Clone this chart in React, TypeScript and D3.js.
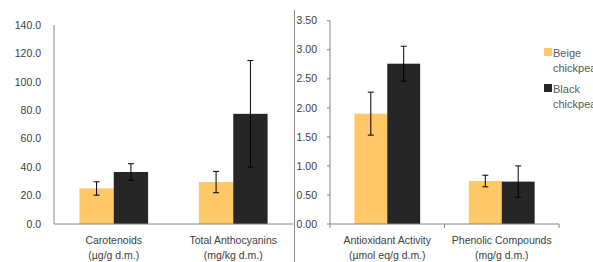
import React from 'react'
import * as d3 from 'd3'

// left panel
const leftCats = ['Carotenoids|(µg/g d.m.)', 'Total Anthocyanins|(mg/kg d.m.)']
const leftBeige = [25.0, 29.5]
const leftBeigeErr = [4.7, 7.5]
const leftBlack = [36.6, 77.5]
const leftBlackErr = [5.8, 37.5]
const leftTicks = [0, 20, 40, 60, 80, 100, 120, 140]

// right panel
const rightCats = ['Antioxidant Activity|(µmol eq/g d.m.)', 'Phenolic Compounds|(mg/g d.m.)']
const rightBeige = [1.90, 0.74]
const rightBeigeErr = [0.37, 0.10]
const rightBlack = [2.76, 0.73]
const rightBlackErr = [0.30, 0.27]
const rightTicks = [0, 0.5, 1, 1.5, 2, 2.5, 3, 3.5]

const series = ['Beige|chickpea', 'Black|chickpea']
const colors = ['#fdc865', '#262626']

const FONT = 'Liberation Sans, Arial, sans-serif'
const axisCol = '#868686'
const textCol = '#404040'

type PanelProps = {
  x0: number, x1: number, yTop: number, yBot: number,
  cats: string[], beige: number[], beigeErr: number[], black: number[], blackErr: number[],
  ticks: number[], fmt: (v: number) => string, yTicks: boolean, midTick: boolean,
}

function Panel(p: PanelProps) {
  const y = d3.scaleLinear().domain([0, p.ticks[p.ticks.length - 1]]).range([p.yBot, p.yTop])
  const x = d3.scaleBand().domain(p.cats).range([p.x0, p.x1]).paddingInner(0).paddingOuter(0)
  const inner = d3.scaleBand().domain(['0', '1']).range([0, x.bandwidth()]).paddingOuter(0.74).paddingInner(0)
  const groups = [
    { vals: p.beige, errs: p.beigeErr },
    { vals: p.black, errs: p.blackErr },
  ]
  return (
    <g>
      {p.ticks.map(t => (
        <g key={t}>
          <text x={p.x0 - 13} y={y(t)} dy="0.35em" textAnchor="end" fontSize={10.5} fill={textCol} fontFamily={FONT}>{p.fmt(t)}</text>
          {p.yTicks && <line x1={p.x0 - 3} x2={p.x0} y1={y(t)} y2={y(t)} stroke={axisCol} />}
        </g>
      ))}
      <line x1={p.x0} x2={p.x0} y1={p.yTop} y2={p.yBot} stroke={axisCol} />
      {p.cats.map((c, ci) => groups.map((g, si) => {
        const bx = (x(c) as number) + (inner(String(si)) as number)
        const bw = inner.bandwidth()
        const cx = bx + bw / 2
        const v = g.vals[ci], e = g.errs[ci]
        return (
          <g key={c + si}>
            <rect x={bx} width={bw} y={y(v)} height={p.yBot - y(v)} fill={colors[si]} />
            <line x1={cx} x2={cx} y1={y(v + e)} y2={y(v - e)} stroke="#000" strokeWidth={1} />
            <line x1={cx - 3} x2={cx + 3} y1={y(v + e)} y2={y(v + e)} stroke="#000" strokeWidth={1} />
            <line x1={cx - 3} x2={cx + 3} y1={y(v - e)} y2={y(v - e)} stroke="#000" strokeWidth={1} />
          </g>
        )
      }))}
      <line x1={p.x0} x2={p.x1} y1={p.yBot} y2={p.yBot} stroke={axisCol} />
      {p.midTick && [p.x0, (x(p.cats[1]) as number), p.x1].map((tx, i) => (
        <line key={i} x1={tx} x2={tx} y1={p.yBot} y2={p.yBot + 4} stroke={axisCol} />
      ))}
      {p.cats.map(c => {
        const [l1, l2] = c.split('|')
        const cx = (x(c) as number) + x.bandwidth() / 2
        return (
          <text key={c} x={cx} textAnchor="middle" fontSize={10.5} fill={textCol} fontFamily={FONT}>
            <tspan x={cx} y={244}>{l1}</tspan>
            <tspan x={cx} y={259}>{l2}</tspan>
          </text>
        )
      })}
    </g>
  )
}

export default function App() {
  const legendY = [48, 84]
  return (
    <svg width={593} height={262} style={{ position: 'absolute', left: 0, top: 0, background: '#fff' }}>
      <Panel x0={54} x1={293} yTop={25} yBot={224} cats={leftCats}
        beige={leftBeige} beigeErr={leftBeigeErr} black={leftBlack} blackErr={leftBlackErr}
        ticks={leftTicks} fmt={d3.format('.1f')} yTicks={false} midTick={false} />
      <line x1={294.5} x2={294.5} y1={10} y2={262} stroke={axisCol} />
      <Panel x0={330} x1={559} yTop={20.7} yBot={224} cats={rightCats}
        beige={rightBeige} beigeErr={rightBeigeErr} black={rightBlack} blackErr={rightBlackErr}
        ticks={rightTicks} fmt={d3.format('.2f')} yTicks={true} midTick={true} />
      {series.map((s, i) => {
        const [l1, l2] = s.split('|')
        return (
          <g key={s}>
            <rect x={544} y={legendY[i]} width={8} height={8} fill={colors[i]} />
            <text fontSize={11} fill="#595959" fontFamily={FONT}>
              <tspan x={553} y={legendY[i] + 8.5}>{l1}</tspan>
              <tspan x={553} y={legendY[i] + 23.5}>{l2}</tspan>
            </text>
          </g>
        )
      })}
    </svg>
  )
}
